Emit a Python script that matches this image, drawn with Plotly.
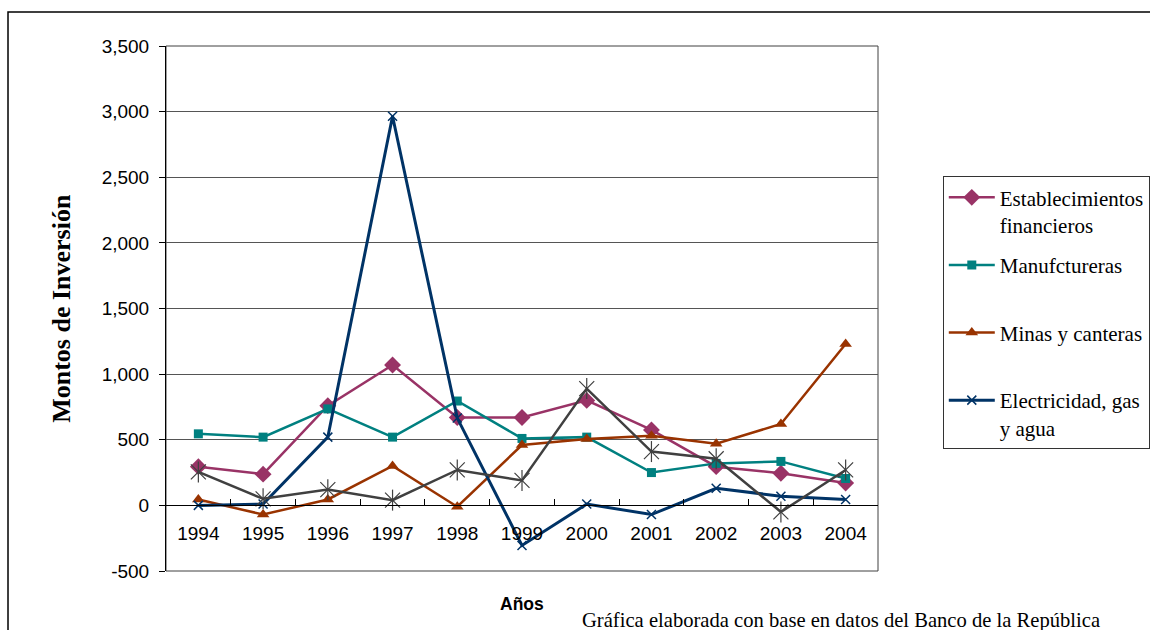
import plotly.graph_objects as go

# Años de la serie
anios = ["1994", "1995", "1996", "1997", "1998", "1999", "2000", "2001", "2002", "2003", "2004"]

# Montos de inversión por sector
establecimientos = [295, 238, 760, 1070, 670, 670, 800, 575, 295, 245, 170]
manufactureras = [545, 520, 735, 520, 795, 510, 520, 250, 320, 335, 205]
minas = [45, -70, 45, 300, -10, 460, 505, 530, 470, 620, 1230]
electricidad = [0, 10, 520, 2965, 665, -305, 10, -70, 130, 70, 45]
otros = [255, 50, 120, 40, 270, 190, 890, 410, 355, -50, 270]

# Eje vertical
y_ticks = [-500, 0, 500, 1000, 1500, 2000, 2500, 3000, 3500]
y_tick_labels = ["-500", "0", "500", "1,000", "1,500", "2,000", "2,500", "3,000", "3,500"]

SANS = "Liberation Sans, Arial, sans-serif"
SERIF = "Liberation Serif, Times New Roman, serif"

fig = go.Figure()


def serie(nombre, valores, color, simbolo, tam, ancho=2.5, leyenda=True, mline=0):
    fig.add_trace(go.Scatter(
        x=anios, y=valores, name=nombre, legendgroup=nombre,
        mode="lines+markers", showlegend=leyenda,
        line=dict(color=color, width=ancho),
        marker=dict(symbol=simbolo, size=tam, color=color,
                    line=dict(color=color, width=mline)),
    ))


# cada entrada de la leyenda ocupa dos renglones para un espaciado uniforme
serie("Establecimientos<br>financieros", establecimientos, "#993366", "diamond", 13)
serie("Manufctureras<br>\u00a0", manufactureras, "#008080", "square", 9)
serie("Minas y canteras<br>\u00a0", minas, "#993300", "triangle-up", 11)
serie("Electricidad, gas<br>y agua", electricidad, "#003366", "x-thin", 9, ancho=3, mline=1.5)
serie("Otros", otros, "#404040", "x-thin", 15, leyenda=False, mline=1.2)
# brazo vertical del asterisco
fig.add_trace(go.Scatter(
    x=anios, y=otros, mode="markers", showlegend=False, hoverinfo="skip",
    marker=dict(symbol="line-ns", size=15, color="#404040",
                line=dict(color="#404040", width=1.2)),
))

fig.update_layout(
    width=1150, height=630,
    margin=dict(l=166, r=272, t=46, b=59, autoexpand=False),
    paper_bgcolor="white", plot_bgcolor="white",
    font=dict(family=SANS, color="black"),
    showlegend=True,
    legend=dict(
        x=1.091, xanchor="left", y=0.752, yanchor="top",
        bgcolor="white", bordercolor="#333333", borderwidth=1,
        font=dict(family=SERIF, size=21, color="black"),
        traceorder="grouped", tracegroupgap=10, itemwidth=46, valign="top",
    ),
    xaxis=dict(
        type="category", range=[-0.5, 10.5],
        anchor="free", position=0.125,
        showline=True, linecolor="black", linewidth=1,
        ticks="inside", ticklen=6, tickcolor="black", tickson="boundaries",
        showgrid=False, zeroline=False,
        tickfont=dict(family=SANS, size=19, color="black"),
        ticklabelstandoff=11,
    ),
    yaxis=dict(
        range=[-500, 3500], tickvals=y_ticks, ticktext=y_tick_labels,
        showline=True, linecolor="black", linewidth=1,
        ticks="outside", ticklen=6, tickcolor="black",
        showgrid=True, gridcolor="#555555", gridwidth=1, zeroline=False,
        tickfont=dict(family=SANS, size=19, color="black"),
        ticklabelstandoff=6,
    ),
    shapes=[
        # marco del área de trazado
        dict(type="rect", xref="paper", yref="paper", x0=0, x1=1, y0=0, y1=1,
             line=dict(color="#404040", width=1), layer="below"),
        # marco exterior del gráfico
        dict(type="rect", xref="paper", yref="paper", x0=-0.2219, x1=1.40,
             y0=-0.14, y1=1.0648, line=dict(color="black", width=1.5)),
    ],
    annotations=[
        dict(text="Montos de Inversión", xref="paper", yref="paper",
             x=-0.147, y=0.5, textangle=-90, showarrow=False,
             xanchor="center", yanchor="middle",
             font=dict(family=SERIF, size=26, color="black", weight="bold")),
        dict(text="<b>Años</b>", xref="paper", yref="paper",
             x=0.5, y=-0.063, showarrow=False, xanchor="center", yanchor="middle",
             font=dict(family=SANS, size=17.5, color="black")),
        dict(text="Gráfica elaborada con base en datos del Banco de la República",
             xref="paper", yref="paper", x=0.5815, y=-0.0952, showarrow=False,
             xanchor="left", yanchor="middle",
             font=dict(family=SERIF, size=20.6, color="black")),
    ],
)

fig.write_html("out.html")
